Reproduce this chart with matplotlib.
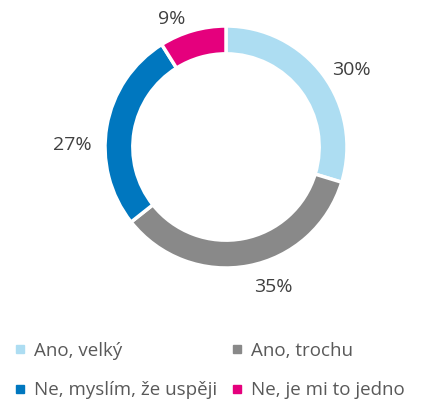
import matplotlib
matplotlib.use('Agg')
import matplotlib.pyplot as plt
import numpy as np
from matplotlib.lines import Line2D

plt.rcParams['font.family'] = ['Open Sans', 'DejaVu Sans']

labels = ['Ano, velký', 'Ano, trochu', 'Ne, myslím, že uspěji', 'Ne, je mi to jedno']
values = [30, 35, 27, 9]
colors = ['#ADDDF2', '#898989', '#0077BF', '#E5007D']

# label placement nudges (degrees, radius)
label_angle_shift = [-5, 8, 9, 7]
label_radius = [1.22, 1.22, 1.27, 1.15]

fig = plt.figure(figsize=(4.22, 4.0), dpi=100)
# axes sized so the ring radius is ~121 px, centred at (226, 147)
ax = fig.add_axes([0.2488, 0.33, 0.5735, 0.605])

wedges, _ = ax.pie(
    values, colors=colors, startangle=90, counterclock=False,
    wedgeprops=dict(width=0.23, edgecolor='white', linewidth=2.5))
ax.set_xlim(-1, 1)
ax.set_ylim(-1, 1)
ax.set_aspect('equal')

for w, v, da, r in zip(wedges, values, label_angle_shift, label_radius):
    ang = np.deg2rad((w.theta1 + w.theta2) / 2 + da)
    ax.text(r * np.cos(ang), r * np.sin(ang), f'{v}%', ha='center', va='center',
            fontsize=14, color='#404040')

order = [0, 2, 1, 3]  # legend fills columns, reference reads row-wise
handles = [Line2D([], [], marker='s', linestyle='', markersize=6,
                  markerfacecolor=colors[i], markeredgecolor=colors[i]) for i in order]
fig.legend(handles, [labels[i] for i in order], ncol=2, loc='lower left',
           bbox_to_anchor=(-0.005, -0.04), frameon=False,
           fontsize=13.5, labelcolor='#595959',
           handlelength=0.6, handletextpad=0.45,
           columnspacing=0.75, labelspacing=1.15)

fig.savefig('out.png', dpi=100)
